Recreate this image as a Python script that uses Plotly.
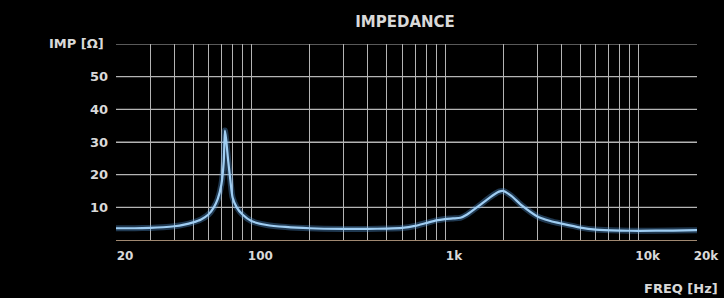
import plotly.graph_objects as go

# Data
freq = [20, 25, 30, 35, 40, 45, 50, 55, 60, 64, 67, 70, 72, 73, 74, 76, 78, 80, 84, 90,
        100, 120, 150, 200, 300, 400, 500, 600, 700, 800, 900, 1000, 1100, 1200, 1300,
        1500, 1700, 1900, 2000, 2200, 2500, 3000, 3500, 4000, 5000, 6000, 8000, 10000,
        15000, 20000]
imp = [3.6, 3.6, 3.7, 3.9, 4.2, 4.7, 5.4, 6.3, 7.8, 10, 12.5, 17, 24, 33.5, 31, 24, 18, 13,
       10, 7.8, 5.8, 4.6, 4.0, 3.6, 3.4, 3.4, 3.5, 3.7, 4.3, 5.2, 6.0, 6.4, 6.6, 6.8, 7.8,
       10.5, 13, 14.8, 15, 13.5, 10.5, 7.2, 5.8, 5.0, 3.8, 3.2, 2.9, 2.8, 2.9, 3.0]

x_grid = [20, 30, 40, 50, 60, 70, 80, 90, 100, 200, 300, 400, 500, 600, 700, 800, 900,
          1000, 2000, 3000, 4000, 5000, 6000, 7000, 8000, 9000, 10000, 20000]
x_labels = {20: "20", 100: "100", 1000: "1k", 10000: "10k", 20000: "20k"}
y_grid = [10, 20, 30, 40, 50, 60]
y_labels = ["10", "20", "30", "40", "50", ""]

FONT = "DejaVu Sans"
TXT = "#d9d9d9"
GRID = "#b4b4b4"

W, H = 724, 298
L, T, R, B = 116, 44, 697, 240
pw, ph = R - L, B - T

# horizontal grid lines built from the y tick values, spanning the frequency range
gx, gy = [], []
for v in y_grid:
    gx += [x_grid[0], x_grid[-1], None]
    gy += [v, v, None]

fig = go.Figure()
fig.add_trace(go.Scatter(x=gx, y=gy, mode="lines", line=dict(color=GRID, width=1.2),
                         hoverinfo="skip", showlegend=False, cliponaxis=False))
fig.add_trace(go.Scatter(x=freq, y=imp, mode="lines",
                         line=dict(color="rgba(90,160,230,0.35)", width=6, shape="spline", smoothing=0.6),
                         hoverinfo="skip", showlegend=False))
fig.add_trace(go.Scatter(x=freq, y=imp, mode="lines",
                         line=dict(color="#9fcdf2", width=2.2, shape="spline", smoothing=0.6),
                         showlegend=False))

fig.update_layout(
    width=W, height=H,
    margin=dict(l=L, r=W - R, t=T, b=H - B),
    paper_bgcolor="#000000", plot_bgcolor="#000000",
    title=dict(text="IMPEDANCE", x=405 / W, xanchor="center", y=1 - 22 / H, yanchor="middle",
               font=dict(family=FONT, size=15, color=TXT, weight="bold")),
)
fig.update_xaxes(type="log", range=[1.30103, 4.30103], automargin=False,
                 tickvals=x_grid, ticktext=[x_labels.get(v, "") for v in x_grid],
                 showgrid=True, gridcolor=GRID, gridwidth=1,
                 ticks="", ticklabelshift=9, ticklabelstandoff=5,
                 tickfont=dict(family=FONT, size=12, color=TXT, weight="bold"),
                 showline=True, linecolor="rgba(200,170,140,0.8)", linewidth=1, zeroline=False)
fig.update_yaxes(range=[0, 60], automargin=False, tickmode="array",
                 tickvals=y_grid, ticktext=y_labels,
                 showgrid=True, gridcolor=GRID, gridwidth=1, ticks="", ticklabelstandoff=7,
                 tickfont=dict(family=FONT, size=13, color=TXT, weight="bold"),
                 zeroline=False, showline=False)

fig.add_annotation(text="IMP [Ω]", xref="paper", yref="paper", x=(106 - L) / pw, y=(B - 43) / ph,
                   xanchor="right", yanchor="middle", showarrow=False,
                   font=dict(family=FONT, size=13, color=TXT, weight="bold"))
fig.add_annotation(text="FREQ [Hz]", xref="paper", yref="paper", x=(720 - L) / pw, y=(B - 288) / ph,
                   xanchor="right", yanchor="middle", showarrow=False,
                   font=dict(family=FONT, size=13, color=TXT, weight="bold"))

fig.write_html("out.html", config={"displayModeBar": False},
               post_script="document.body.style.margin='0';document.body.style.overflow='hidden';")
